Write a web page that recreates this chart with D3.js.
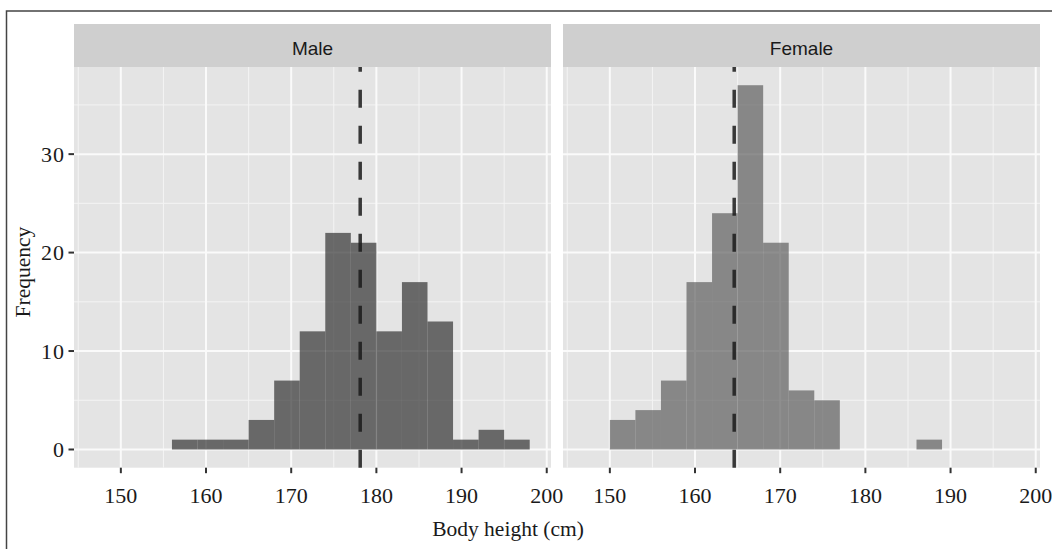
<!DOCTYPE html>
<html lang="en">
    <head>
        <meta charset="UTF-8">
        <title>Body height by sex</title>
        <style>
            body { margin: 0; background: #fff; }
            .tick-label { font-family: "Liberation Serif", "DejaVu Serif", serif; font-size: 22px; fill: #1a1a1a; }
            .axis-title { font-family: "Liberation Serif", "DejaVu Serif", serif; font-size: 21.5px; fill: #1a1a1a; }
            .strip-label { font-family: "Liberation Sans", Arial, sans-serif; font-size: 19px; fill: #1a1a1a; }
        </style>
    </head>
    <body>
<svg width="1052" height="549"></svg>

<script src="https://d3js.org/d3.v7.min.js"></script>
<script>

// histogram bins (binwidth 3)
var panels = ["Male", "Female"];

var maleBinStart = [156, 159, 162, 165, 168, 171, 174, 177, 180, 183, 186, 189, 192, 195];
var maleCounts   = [1, 1, 1, 3, 7, 12, 22, 21, 12, 17, 13, 1, 2, 1];

var femaleBinStart = [150, 153, 156, 159, 162, 165, 168, 171, 174, 177, 180, 183, 186];
var femaleCounts   = [3, 4, 7, 17, 24, 37, 21, 6, 5, 0, 0, 0, 1];

var binWidth = 3;
var means = [178.1, 164.6];

var xTicks = [150, 160, 170, 180, 190, 200];
var xMinor = [145, 155, 165, 175, 185, 195];
var yTicks = [0, 10, 20, 30];
var yMinor = [5, 15, 25, 35];

var svg = d3.select("svg");

// outer frame (only top and left are inside the picture)
svg.append("rect")
    .attr("x", 6.5).attr("y", 11)
    .attr("width", 1200).attr("height", 700)
    .attr("fill", "none")
    .attr("stroke", "#444")
    .attr("stroke-width", 1.5);

var panelW = 477,
    panelTop = 67,
    panelBottom = 467.7,
    stripTop = 24,
    panelX = [74, 563];

var x = d3.scaleLinear().domain([144.5, 200.5]).range([0, panelW]);
var y = d3.scaleLinear().domain([-1.85, 38.85]).range([panelBottom, panelTop]);

var series = [
    {starts: maleBinStart, counts: maleCounts, fill: "#333", opacity: 0.7},
    {starts: femaleBinStart, counts: femaleCounts, fill: "#555", opacity: 0.65}
];

panels.forEach(function(name, p) {
  var g = svg.append("g").attr("transform", "translate(" + panelX[p] + ",0)");

  // strip
  g.append("rect")
      .attr("x", 0).attr("y", stripTop)
      .attr("width", panelW).attr("height", panelTop - stripTop)
      .attr("fill", "#cfcfcf");
  g.append("text")
      .attr("class", "strip-label")
      .attr("x", panelW / 2).attr("y", 55)
      .attr("text-anchor", "middle")
      .text(name);

  // panel background
  g.append("rect")
      .attr("x", 0).attr("y", panelTop)
      .attr("width", panelW).attr("height", panelBottom - panelTop)
      .attr("fill", "#e4e4e4");

  // grid
  g.selectAll(".vminor").data(xMinor).enter().append("line")
      .attr("x1", x).attr("x2", x)
      .attr("y1", panelTop).attr("y2", panelBottom)
      .attr("stroke", "#f4f4f4").attr("stroke-width", 1);
  g.selectAll(".hminor").data(yMinor).enter().append("line")
      .attr("x1", 0).attr("x2", panelW)
      .attr("y1", y).attr("y2", y)
      .attr("stroke", "#f4f4f4").attr("stroke-width", 1);
  g.selectAll(".vmajor").data(xTicks).enter().append("line")
      .attr("x1", x).attr("x2", x)
      .attr("y1", panelTop).attr("y2", panelBottom)
      .attr("stroke", "#fafafa").attr("stroke-width", 2);
  g.selectAll(".hmajor").data(yTicks).enter().append("line")
      .attr("x1", 0).attr("x2", panelW)
      .attr("y1", y).attr("y2", y)
      .attr("stroke", "#fafafa").attr("stroke-width", 2);

  // bars
  var s = series[p];
  var bins = s.starts.map(function(d, i) { return {x0: d, x1: d + binWidth, n: s.counts[i]}; })
      .filter(function(d) { return d.n > 0; });
  g.selectAll(".bar").data(bins).enter().append("rect")
      .attr("x", function(d) { return x(d.x0); })
      .attr("width", function(d) { return x(d.x1) - x(d.x0); })
      .attr("y", function(d) { return y(d.n); })
      .attr("height", function(d) { return y(0) - y(d.n); })
      .attr("fill", s.fill)
      .attr("fill-opacity", s.opacity);

  // mean line, dashes start from the bottom
  g.append("line")
      .attr("x1", x(means[p])).attr("x2", x(means[p]))
      .attr("y1", panelBottom).attr("y2", panelTop)
      .attr("stroke", "#1a1a1a")
      .attr("stroke-opacity", 0.85)
      .attr("stroke-width", 3.5)
      .attr("stroke-dasharray", "18,18");

  // x axis ticks + labels
  g.selectAll(".xtick").data(xTicks).enter().append("line")
      .attr("x1", x).attr("x2", x)
      .attr("y1", panelBottom).attr("y2", panelBottom + 5.5)
      .attr("stroke", "#333").attr("stroke-width", 2);
  g.selectAll(".xlab").data(xTicks).enter().append("text")
      .attr("class", "tick-label")
      .attr("x", x).attr("y", 503)
      .attr("text-anchor", "middle")
      .text(function(d) { return d; });
});

// y axis on left panel
var ya = svg.append("g");
ya.selectAll(".ytick").data(yTicks).enter().append("line")
    .attr("x1", panelX[0] - 5.5).attr("x2", panelX[0])
    .attr("y1", y).attr("y2", y)
    .attr("stroke", "#333").attr("stroke-width", 2);
ya.selectAll(".ylab").data(yTicks).enter().append("text")
    .attr("class", "tick-label")
    .attr("x", 65).attr("y", y)
    .attr("dy", "0.34em")
    .attr("text-anchor", "end")
    .style("letter-spacing", "1px")
    .text(function(d) { return d; });

svg.append("text")
    .attr("class", "axis-title")
    .attr("transform", "translate(30,272) rotate(-90)")
    .attr("text-anchor", "middle")
    .text("Frequency");

svg.append("text")
    .attr("class", "axis-title")
    .attr("x", 508).attr("y", 536)
    .attr("text-anchor", "middle")
    .text("Body height (cm)");

</script>
</body>
</html>
